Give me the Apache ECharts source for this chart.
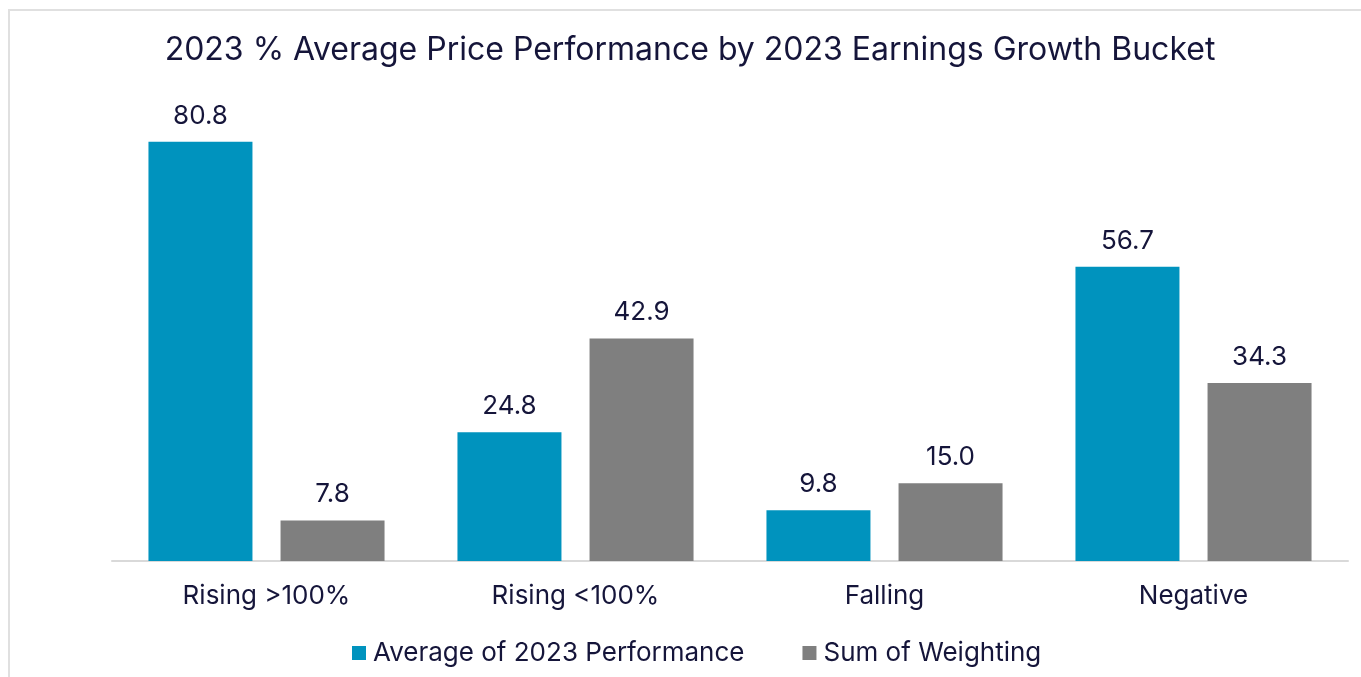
<!DOCTYPE html>
<html>
<head>
<meta charset="utf-8">
<script src="https://cdn.jsdelivr.net/npm/echarts@6/dist/echarts.min.js"></script>
<style>
  html, body { margin: 0; padding: 0; background: #fff; }
  .frame { position: absolute; left: 8px; top: 9px; width: 1400px; height: 700px;
           border-top: 2px solid #e0e0e0; border-left: 2px solid #e0e0e0; }
  #chart { position: absolute; left: 0; top: 0; width: 1361px; height: 677px; }
</style>
</head>
<body>
<div class="frame"></div>
<div id="chart"></div>
<script>
// categories and series
var categories = ['Rising >100%', 'Rising <100%', 'Falling', 'Negative'];
var avgPerformance = [80.8, 24.8, 9.8, 56.7];
var sumWeighting = [7.8, 42.9, 15.0, 34.3];

var textColor = '#15153a';
var font = 'Inter';

var myChart = echarts.init(document.getElementById('chart'));

function barSeries(name, data, color) {
  return {
    name: name,
    type: 'bar',
    data: data,
    barWidth: 104,
    barGap: '27%',
    itemStyle: { color: color },
    label: {
      show: true,
      position: 'top',
      distance: 13,
      color: textColor,
      fontFamily: font,
      fontSize: 26,
      formatter: function (p) { return p.value.toFixed(1); }
    }
  };
}

var option = {
  animation: false,
  title: {
    text: '2023 % Average Price Performance by 2023 Earnings Growth Bucket',
    left: 685,
    textAlign: 'center',
    top: 29,
    textStyle: { color: textColor, fontFamily: font, fontSize: 32, fontWeight: 'normal' }
  },
  legend: {
    bottom: 6,
    left: 347,
    itemWidth: 14,
    itemHeight: 14,
    itemGap: 58,
    icon: 'rect',
    textStyle: { color: textColor, fontFamily: font, fontSize: 26, padding: [0, 0, 0, 2] },
    data: ['Average of 2023 Performance', 'Sum of Weighting']
  },
  grid: { left: 112, right: 13, top: 94, bottom: 116 },
  xAxis: {
    type: 'category',
    data: categories,
    axisLine: { lineStyle: { color: '#d9d9d9', width: 2 } },
    axisTick: { show: false },
    axisLabel: { color: textColor, fontFamily: font, fontSize: 26, margin: 22 }
  },
  yAxis: {
    type: 'value',
    min: 0,
    max: 90,
    show: false,
    splitLine: { show: false }
  },
  series: [
    barSeries('Average of 2023 Performance', avgPerformance, '#0093be'),
    barSeries('Sum of Weighting', sumWeighting, '#7f7f7f')
  ]
};

myChart.setOption(option);
</script>
</body>
</html>
